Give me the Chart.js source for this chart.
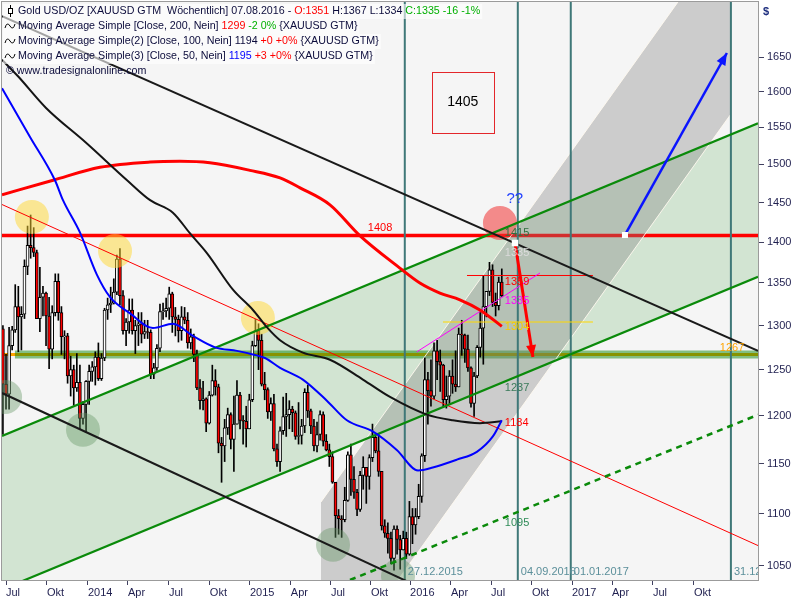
<!DOCTYPE html>
<html lang="de">
<head>
<meta charset="utf-8" />
<title>Gold USD/OZ - Wöchentlich</title>
<script src="https://cdn.jsdelivr.net/npm/chart.js"></script>
<style>
  body { margin: 0; background: #fff; }
  canvas { display: block; }
</style>
</head>
<body>
<canvas id="goldChart" width="800" height="600"></canvas>
<script>
// weekly bars, x = bar number, bar 0 = week of 01.07.2013, first bar shown is -1
const firstBar = -1;
const open = [
  1296,1234,1223,1277,1295,1322,1310,1313,1370,1396,
  1393,1387,1308,1333,1338,1311,1273,1315,1352,1315,
  1287,1288,1243,1250,1230,1236,1197,1212,1237,1248,
  1253,1264,1240,1263,1318,1324,1326,1339,1379,1335,
  1294,1304,1318,1294,1300,1302,1290,1293,1292,1245,
  1252,1274,1316,1317,1320,1337,1310,1307,1294,1310,
  1306,1280,1287,1267,1230,1216,1218,1192,1222,1238,
  1231,1171,1168,1187,1201,1175,1191,1222,1195,1194,
  1186,1217,1277,1294,1283,1234,1228,1204,1213,1165,
  1152,1184,1199,1201,1207,1203,1178,1179,1189,1225,
  1205,1189,1168,1180,1201,1173,1164,1157,1131,1098,
  1095,1094,1113,1159,1134,1121,1104,1138,1146,1137,
  1156,1177,1163,1142,1088,1081,1076,1057,1085,1075,
  1065,1076,1061,1097,1089,1097,1117,1158,1239,1227,
  1221,1271,1259,1255,1217,1221,1243,1234,1231,1290,
  1289,1273,1252,1213,1243,1275,1297,1322,1340,1366,
  1327,1323,1351
];
const high = [
  1300,1267,1298,1299,1348,1346,1322,1378,1420,1434,
  1418,1390,1369,1346,1339,1333,1323,1361,1361,1322,
  1294,1291,1265,1255,1268,1255,1215,1238,1255,1259,
  1270,1280,1268,1320,1332,1345,1355,1384,1392,1341,
  1308,1331,1331,1306,1315,1315,1306,1306,1295,1257,
  1278,1325,1326,1332,1345,1339,1321,1312,1322,1321,
  1315,1296,1290,1272,1239,1237,1219,1226,1255,1250,
  1234,1177,1196,1208,1203,1221,1238,1225,1200,1210,
  1223,1282,1307,1302,1290,1247,1230,1219,1223,1170,
  1188,1220,1224,1216,1210,1205,1214,1196,1229,1233,
  1207,1196,1193,1205,1204,1180,1170,1162,1131,1104,
  1098,1126,1162,1170,1147,1124,1142,1157,1146,1159,
  1191,1178,1180,1142,1094,1091,1082,1088,1088,1079,
  1083,1082,1112,1105,1105,1129,1160,1263,1247,1261,
  1280,1283,1272,1256,1243,1249,1261,1271,1297,1306,
  1290,1289,1253,1247,1277,1315,1358,1340,1375,1372,
  1338,1357,1367
];
const low = [
  1180,1207,1207,1272,1292,1270,1272,1308,1360,1380,
  1382,1308,1293,1311,1277,1251,1262,1311,1306,1267,
  1262,1235,1221,1211,1226,1185,1191,1182,1212,1237,
  1233,1238,1238,1260,1307,1315,1325,1336,1324,1290,
  1277,1291,1290,1268,1277,1280,1285,1285,1240,1240,
  1249,1270,1307,1310,1307,1292,1288,1281,1283,1302,
  1274,1273,1259,1228,1207,1206,1183,1191,1221,1222,
  1161,1131,1152,1180,1165,1142,1191,1186,1170,1167,
  1186,1215,1276,1250,1232,1217,1197,1195,1163,1147,
  1142,1180,1178,1186,1183,1175,1170,1170,1182,1198,
  1181,1163,1162,1174,1168,1163,1147,1130,1077,1080,
  1077,1092,1112,1118,1115,1098,1102,1124,1110,1124,
  1152,1161,1137,1084,1077,1062,1052,1046,1061,1047,
  1065,1057,1060,1071,1080,1095,1111,1152,1191,1210,
  1218,1239,1226,1209,1208,1213,1224,1226,1231,1266,
  1258,1248,1209,1199,1241,1264,1256,1310,1335,1322,
  1311,1318,1334
];
const close = [
  1234,1223,1277,1295,1322,1310,1313,1370,1396,1393,
  1387,1308,1333,1338,1311,1273,1315,1352,1315,1287,
  1288,1243,1250,1230,1236,1197,1212,1237,1248,1253,
  1264,1240,1263,1318,1324,1326,1339,1379,1335,1294,
  1304,1318,1294,1300,1302,1290,1293,1292,1245,1252,
  1274,1316,1317,1320,1337,1310,1307,1294,1310,1306,
  1280,1287,1267,1230,1216,1218,1192,1222,1238,1231,
  1171,1168,1187,1201,1175,1191,1222,1195,1194,1186,
  1217,1277,1294,1283,1234,1228,1204,1213,1165,1152,
  1184,1199,1201,1207,1203,1178,1179,1189,1225,1205,
  1189,1168,1180,1201,1173,1164,1157,1131,1098,1095,
  1094,1113,1159,1134,1121,1104,1138,1146,1137,1156,
  1177,1163,1142,1088,1081,1076,1057,1085,1075,1065,
  1076,1061,1097,1089,1097,1117,1158,1239,1227,1221,
  1271,1259,1255,1217,1221,1243,1234,1231,1290,1289,
  1273,1252,1213,1243,1275,1297,1322,1340,1366,1327,
  1323,1351,1335
];

// moving averages
const ma200Bar = [-1.3, 15.3, 30.5, 46.8, 56.5, 66.2, 79.2, 89, 95.5, 105.2, 114.9, 127.9, 134.4, 140.9, 147.4, 153.9, 161];
const ma200 = [1460, 1479, 1496, 1503, 1504, 1502, 1492, 1482, 1469, 1447, 1408, 1368, 1350, 1338, 1330, 1318, 1299];
const ma100Bar = [-1.3, 3.9, 13, 26, 39.3, 46.8, 54.2, 59.7, 65.3, 73.7, 80.2, 84.7, 89, 96.4, 105.2, 115.9, 124.7, 136.7, 145.1, 153.9, 161];
const ma100 = [1646, 1622, 1577, 1529, 1479, 1453, 1437, 1411, 1386, 1342, 1318, 1298, 1283, 1269, 1261, 1239, 1220, 1201, 1195, 1192, 1194];
const ma50Bar = [-1.3, 7.8, 15.9, 18.5, 24, 29.5, 33.8, 40.3, 47.7, 54.2, 60.7, 67.9, 75, 80.2, 84.1, 89, 96.4, 104.2, 110.7, 119.2, 126.9, 133.8, 138.6, 146.4, 152.9, 158.1, 161];
const ma50 = [1605, 1537, 1479, 1453, 1412, 1360, 1333, 1314, 1297, 1302, 1288, 1275, 1271, 1267, 1263, 1252, 1239, 1216, 1195, 1183, 1164, 1143, 1146, 1154, 1162, 1178, 1195];

// axis ticks
const tickBar = [0, 13.3, 26.6, 39.6, 52.9, 66.2, 79.2, 92.5, 105.5, 118.5, 131.2, 144.5, 157.5, 170.8, 183.8, 196.8, 210.1, 223.4];
const tickLabel = ['Jul', 'Okt', '2014', 'Apr', 'Jul', 'Okt', '2015', 'Apr', 'Jul', 'Okt', '2016', 'Apr', 'Jul', 'Okt', '2017', 'Apr', 'Jul', 'Okt'];
const priceTicks = [1050, 1100, 1150, 1200, 1250, 1300, 1350, 1400, 1450, 1500, 1550, 1600, 1650];

// drawing tools: [bar, price] end points
const channelTop = [[-1.3, 1178.6], [244.2, 1555.8]];
const channelMid = [[-1.3, 1028.3], [244.2, 1357.4]];
const channelLow = [[111.7, 1037], [244.2, 1200.9]];
const trendTop = [[-1.3, 1710.9], [244.2, 1271]];
const trendLow = [[-1.3, 1224.3], [134.4, 1030.3]];
const redTrend = [[-1.3, 1447.4], [244.2, 1069.2]];
const pinkTrend = [[133.4, 1269.9], [173.4, 1362]];
const resistance = 1408;
const support = 1267;
const line1359 = [[149.7, 1359], [190.6, 1359]];
const line1304 = [[141.9, 1304], [190.6, 1304]];
const grayZoneBar = [102.3, 102.3, 218.2, 235.4, 235.4, 127.3];
const grayZonePrice = [1037, 1111.4, 1732.6, 1732.6, 1568.5, 1037];
const markerBars = [129.5, 166.2, 183.4, 235.4];
const markerDates = ['27.12.2015', '04.09.2016', '01.01.2017', '31.12.2017'];
const yellowSpots = [[8.4, 1431.6], [35.4, 1388.8], [81.8, 1308.8]];
const greenSpots = [[-0.3, 1220], [25, 1184.9], [106.2, 1069.9], [127.3, 1040.7]];
const redSpot = [[160.4, 1423.8]];
const arrowDown = [[165.3, 1398.7], [171.1, 1264]];
const arrowUp = [[201, 1408.8], [234.1, 1655.9]];
const targetBox = {bars: [138.3, 158.4], prices: [1628.2, 1542.3], text: '1405'};

const X_MIN = -1.3, X_MAX = 244.2, Y_MIN = 1037, Y_MAX = 1732.6;
const FONT = '"Liberation Sans", Arial, sans-serif';
const INK = '#0b0b3b';

function seg(points, color, width, order, extra) {
  return Object.assign({
    type: 'line',
    data: points.map(p => ({x: p[0], y: p[1]})),
    borderColor: color,
    borderWidth: width,
    pointRadius: 0,
    pointHoverRadius: 0,
    fill: false,
    tension: 0,
    order: order,
    clip: 0
  }, extra || {});
}
function pairs(xs, ys) { return xs.map((v, i) => [v, ys[i]]); }
function spots(points, color, order) {
  return seg(points, 'rgba(0,0,0,0)', 0, order, {
    showLine: false, pointRadius: 17, pointHoverRadius: 17,
    pointBackgroundColor: color, pointBorderWidth: 0, pointBorderColor: 'rgba(0,0,0,0)'
  });
}

const wickData = high.map((h, i) => ({x: firstBar + i, y: [low[i], h]}));
const bodyData = open.map((o, i) => ({x: firstBar + i, y: [Math.min(o, close[i]), Math.max(o, close[i])]}));
const bodyColor = open.map((o, i) => close[i] < o ? '#ff0000' : '#ffffff');

const datasets = [
  seg(channelTop, 'rgba(0,0,0,0)', 0, 100, {fill: '+1', backgroundColor: 'rgba(0,128,0,0.14)'}),
  seg(channelMid, 'rgba(0,0,0,0)', 0, 99),
  seg([[X_MIN, resistance], [X_MAX, resistance]], '#ff0000', 3.5, 90),
  seg([[X_MIN, support], [X_MAX, support]], '#ffa500', 3, 89),
  seg([[2.9, support], [X_MAX, support]], 'rgba(0,128,0,0.47)', 8, 88),
  seg(pairs(grayZoneBar, grayZonePrice), 'rgba(0,0,0,0)', 0, 80, {zone: 'rgba(128,128,128,0.35)'}),
  seg(pairs(grayZoneBar.slice(1, 3), grayZonePrice.slice(1, 3)), 'rgba(255,250,240,0.9)', 1, 79),
  seg(pairs(grayZoneBar.slice(4, 6), grayZonePrice.slice(4, 6)), 'rgba(255,250,240,0.9)', 1, 79)
];
markerBars.forEach(b => datasets.push(seg([[b, Y_MIN], [b, Y_MAX]], '#3f7878', 2, 70)));
datasets.push(
  {type: 'bar', data: wickData, backgroundColor: '#000000', borderWidth: 0, barThickness: 1, grouped: false, order: 60},
  {type: 'bar', data: bodyData, backgroundColor: bodyColor, borderColor: '#000000', borderWidth: 1,
   borderSkipped: false, barThickness: 3, grouped: false, order: 59},
  spots(yellowSpots, 'rgba(255,215,50,0.5)', 55),
  spots(greenSpots, 'rgba(100,150,100,0.4)', 55),
  spots(redSpot, 'rgba(240,50,50,0.55)', 55),
  seg(trendTop, '#1a1a1a', 2, 50),
  seg(trendLow, '#1a1a1a', 2, 50),
  seg(channelTop, '#0a8a0a', 2.2, 50),
  seg(channelMid, '#0a8a0a', 2.2, 50),
  seg(channelLow, '#0a8a0a', 2.5, 50, {borderDash: [6, 5]}),
  seg(redTrend, '#ff0000', 1, 50),
  seg(pinkTrend, '#ff00ff', 1, 50),
  seg(line1359, '#ff0000', 1, 50),
  seg(line1304, '#ffd700', 1, 50),
  seg(pairs(ma200Bar, ma200), '#ff0000', 3, 42, {cubicInterpolationMode: 'monotone'}),
  seg(pairs(ma100Bar, ma100), '#141414', 2, 41, {cubicInterpolationMode: 'monotone'}),
  seg(pairs(ma50Bar, ma50), '#0000ff', 2, 40, {cubicInterpolationMode: 'monotone'}),
  seg(arrowDown, '#ff0000', 3, 30, {arrow: true, pointRadius: [2.5, 0], pointStyle: 'rect', pointBackgroundColor: '#fff', pointBorderColor: '#fff'}),
  seg(arrowUp, '#0a14ff', 2.5, 30, {arrow: true, pointRadius: [2.5, 0], pointStyle: 'rect', pointBackgroundColor: '#fff', pointBorderColor: '#fff'})
);

const priceLabels = [
  {t: '1408', x: 117.5, p: 1417.5, c: '#ff0000'},
  {t: '1415', x: 162, p: 1411.3, c: '#2f6f3f'},
  {t: '1335', x: 162, p: 1386.4, c: '#dcdcdc'},
  {t: '1359', x: 162, p: 1351, c: '#ff0000'},
  {t: '1335', x: 162, p: 1328.6, c: '#ff00ff'},
  {t: '1304', x: 162, p: 1298.3, c: '#f5cc00'},
  {t: '1237', x: 162, p: 1229.9, c: '#3a7a5a'},
  {t: '1184', x: 162, p: 1192.2, c: '#ff0000'},
  {t: '1095', x: 162, p: 1090.8, c: '#2e8b57'},
  {t: '1267', x: 231.8, p: 1274.7, c: '#ffa500'},
  {t: '??', x: 162.5, p: 1454.5, c: '#2040ff', size: 15}
];

const legendRows = [
  [['Gold USD/OZ [XAUUSD GTM  Wöchentlich] 07.08.2016 - ', INK], ['O:1351', '#ff0000'], [' H:1367 L:1334 ', INK], ['C:1335 -16 -1%', '#00b000']],
  [['Moving Average Simple [Close, 200, Nein] ', INK], ['1299', '#ff0000'], [' -2 0%', '#00b000'], [' {XAUUSD GTM}', INK]],
  [['Moving Average Simple(2) [Close, 100, Nein] 1194 ', INK], ['+0 +0%', '#ff0000'], [' {XAUUSD GTM}', INK]],
  [['Moving Average Simple(3) [Close, 50, Nein] ', INK], ['1195', '#0000ff'], [' +3 +0%', '#ff0000'], [' {XAUUSD GTM}', INK]]
];

const backdrop = {
  id: 'backdrop',
  beforeDraw(chart) {
    const {ctx, chartArea: a} = chart;
    ctx.save();
    ctx.fillStyle = '#f5f5f5';
    ctx.fillRect(a.left, a.top, a.right - a.left, a.bottom - a.top);
    ctx.restore();
  }
};

const zones = {
  id: 'zones',
  beforeDatasetDraw(chart, args) {
    const ds = chart.data.datasets[args.index];
    if (!ds.zone) return;
    const {ctx, chartArea: a} = chart;
    const pts = args.meta.data;
    ctx.save();
    ctx.beginPath();
    ctx.rect(a.left, a.top, a.right - a.left, a.bottom - a.top);
    ctx.clip();
    ctx.beginPath();
    pts.forEach((p, i) => i ? ctx.lineTo(p.x, p.y) : ctx.moveTo(p.x, p.y));
    ctx.closePath();
    ctx.fillStyle = ds.zone;
    ctx.fill();
    ctx.restore();
  },
  afterDatasetDraw(chart, args) {
    const ds = chart.data.datasets[args.index];
    if (!ds.arrow) return;
    const ctx = chart.ctx;
    const pts = args.meta.data;
    const a = pts[pts.length - 2], b = pts[pts.length - 1];
    const ang = Math.atan2(b.y - a.y, b.x - a.x);
    const len = 12, half = 5;
    ctx.save();
    ctx.fillStyle = ds.borderColor;
    ctx.beginPath();
    ctx.moveTo(b.x, b.y);
    ctx.lineTo(b.x - len * Math.cos(ang) + half * Math.sin(ang), b.y - len * Math.sin(ang) - half * Math.cos(ang));
    ctx.lineTo(b.x - len * Math.cos(ang) - half * Math.sin(ang), b.y - len * Math.sin(ang) + half * Math.cos(ang));
    ctx.closePath();
    ctx.fill();
    ctx.restore();
  }
};

const texts = {
  id: 'texts',
  afterDatasetsDraw(chart) {
    const {ctx, chartArea: a, scales: {x, y}} = chart;
    ctx.save();
    ctx.beginPath();
    ctx.rect(a.left, a.top, a.right - a.left, a.bottom - a.top);
    ctx.clip();
    // target box
    const bx1 = x.getPixelForValue(targetBox.bars[0]), bx2 = x.getPixelForValue(targetBox.bars[1]);
    const by1 = y.getPixelForValue(targetBox.prices[0]), by2 = y.getPixelForValue(targetBox.prices[1]);
    ctx.strokeStyle = '#e3262a';
    ctx.lineWidth = 1;
    ctx.strokeRect(Math.round(bx1) + 0.5, Math.round(by1) + 0.5, Math.round(bx2 - bx1), Math.round(by2 - by1));
    ctx.fillStyle = '#000';
    ctx.font = '14px ' + FONT;
    ctx.textAlign = 'center';
    ctx.textBaseline = 'middle';
    ctx.fillText(targetBox.text, (bx1 + bx2) / 2, (by1 + by2) / 2);
    // price labels
    ctx.textAlign = 'left';
    priceLabels.forEach(l => {
      ctx.font = (l.size || 11) + 'px ' + FONT;
      ctx.fillStyle = l.c;
      ctx.fillText(l.t, x.getPixelForValue(l.x), y.getPixelForValue(l.p));
    });
    // date markers
    ctx.font = '11px ' + FONT;
    ctx.fillStyle = '#5b8f9a';
    markerBars.forEach((b, i) => ctx.fillText(markerDates[i], x.getPixelForValue(b) + 3, a.bottom - 8));
    ctx.restore();
  },
  afterDraw(chart) {
    const {ctx, chartArea: a} = chart;
    ctx.save();
    ctx.strokeStyle = '#9b9b9b';
    ctx.lineWidth = 1;
    ctx.strokeRect(a.left - 0.5, a.top - 0.5, a.right - a.left + 1, a.bottom - a.top + 1);
    // legend
    ctx.font = '10.7px ' + FONT;
    ctx.textBaseline = 'middle';
    ctx.textAlign = 'left';
    legendRows.forEach((runs, i) => {
      const yy = 11 + i * 15;
      const w = runs.reduce((s, r) => s + ctx.measureText(r[0]).width, 0);
      ctx.fillStyle = 'rgba(255,255,255,0.6)';
      ctx.fillRect(3, yy - 7, 17 + w, 15);
      let xx = 18;
      runs.forEach(r => { ctx.fillStyle = r[1]; ctx.fillText(r[0], xx, yy); xx += ctx.measureText(r[0]).width; });
      ctx.strokeStyle = '#000';
      ctx.lineWidth = 1;
      if (i === 0) {
        ctx.beginPath(); ctx.moveTo(10.5, yy - 6); ctx.lineTo(10.5, yy + 6); ctx.stroke();
        ctx.fillStyle = '#fff';
        ctx.fillRect(8, yy - 3, 5, 6);
        ctx.strokeRect(8.5, yy - 2.5, 4, 5);
      } else {
        ctx.beginPath();
        ctx.moveTo(5, yy + 2);
        ctx.quadraticCurveTo(7, yy - 5, 10, yy);
        ctx.quadraticCurveTo(13, yy + 5, 15, yy - 2);
        ctx.stroke();
      }
    });
    ctx.fillStyle = INK;
    ctx.fillText('\u00a9 www.tradesignalonline.com', 6, 71);
    ctx.font = 'bold 11px ' + FONT;
    ctx.fillStyle = '#1f2f7f';
    ctx.fillText('$', 763, 12);
    ctx.restore();
  }
};

new Chart(document.getElementById('goldChart'), {
  type: 'bar',
  data: {datasets: datasets},
  options: {
    responsive: false,
    animation: false,
    devicePixelRatio: 1,
    layout: {autoPadding: false, padding: {left: 2, top: 2, right: 0, bottom: 0}},
    plugins: {legend: {display: false}, tooltip: {enabled: false}},
    scales: {
      x: {
        type: 'linear',
        min: X_MIN,
        max: X_MAX,
        offset: false,
        grid: {display: true, offset: false, drawOnChartArea: false, drawTicks: true, tickLength: 5, color: '#404060'},
        border: {display: false},
        ticks: {
          align: 'start', padding: 1, autoSkip: false, maxRotation: 0,
          color: '#1f1f4f', font: {family: FONT, size: 11},
          callback: v => tickLabel[tickBar.indexOf(v)] || ''
        },
        afterBuildTicks: s => { s.ticks = tickBar.map(v => ({value: v})); },
        afterFit: s => { s.height = 20; s.paddingLeft = 0; s.paddingRight = 0; }
      },
      y: {
        type: 'logarithmic',
        position: 'right',
        min: Y_MIN,
        max: Y_MAX,
        beginAtZero: false,
        grid: {display: true, drawOnChartArea: false, drawTicks: true, tickLength: 6, color: '#404060'},
        border: {display: false},
        ticks: {
          padding: 3, autoSkip: false,
          color: '#1f1f4f', font: {family: FONT, size: 11},
          callback: v => String(v)
        },
        afterBuildTicks: s => { s.ticks = priceTicks.map(v => ({value: v})); },
        afterFit: s => { s.width = 42; s.paddingTop = 0; s.paddingBottom = 0; }
      }
    }
  },
  plugins: [backdrop, zones, texts]
});
</script>
</body>
</html>
